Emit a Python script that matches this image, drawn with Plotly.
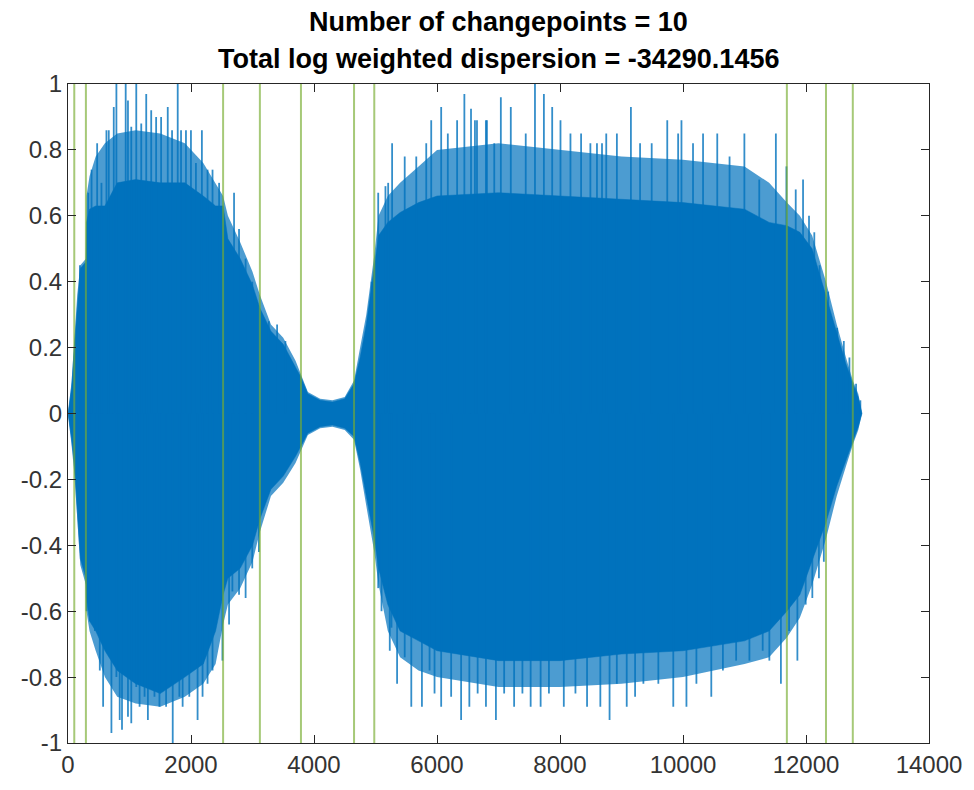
import plotly.graph_objects as go

# ---- data ----
CORE_X = [0, 60, 102, 150, 200, 291, 300, 350, 450, 600, 800, 1100, 1500, 1900, 2200, 2400, 2522,
          2600, 2800, 3000, 3120, 3300, 3500, 3700, 3788, 3900, 4100, 4300, 4500, 4651, 4750, 4850,
          4980, 5050, 5200, 5400, 5700, 6000, 7000, 8000, 9000, 10000, 11000, 11400, 11689, 11900,
          12100, 12325, 12500, 12650, 12761, 12850, 12910]
CORE_UPPER = [0.0, 0.08, 0.20, 0.32, 0.44, 0.46, 0.58, 0.62, 0.63, 0.63, 0.70, 0.71, 0.70, 0.70, 0.66,
              0.63, 0.63, 0.53, 0.47, 0.39, 0.32, 0.25, 0.21, 0.14, 0.11, 0.06, 0.04, 0.035, 0.045,
              0.09, 0.17, 0.27, 0.45, 0.54, 0.58, 0.61, 0.64, 0.66, 0.67, 0.66, 0.65, 0.64, 0.62,
              0.58, 0.57, 0.55, 0.50, 0.36, 0.25, 0.15, 0.09, 0.05, 0.0]
CORE_LOWER = [0.0, -0.08, -0.15, -0.28, -0.44, -0.50, -0.56, -0.63, -0.66, -0.72, -0.78, -0.82, -0.85,
              -0.80, -0.76, -0.66, -0.55, -0.50, -0.47, -0.40, -0.32, -0.23, -0.19, -0.13, -0.10,
              -0.06, -0.04, -0.035, -0.045, -0.07, -0.15, -0.25, -0.38, -0.47, -0.58, -0.66, -0.69,
              -0.72, -0.75, -0.75, -0.73, -0.72, -0.69, -0.66, -0.60, -0.55, -0.45, -0.33, -0.22,
              -0.14, -0.085, -0.04, 0.0]
# typical height of the peak fringe around the dense body
FRINGE_UPPER = [0.0, 0.10, 0.22, 0.36, 0.45, 0.47, 0.66, 0.72, 0.78, 0.82, 0.85, 0.86, 0.85, 0.82,
                0.76, 0.70, 0.66, 0.60, 0.52, 0.43, 0.36, 0.27, 0.23, 0.16, 0.12, 0.065, 0.045, 0.04,
                0.05, 0.10, 0.20, 0.30, 0.48, 0.60, 0.66, 0.70, 0.75, 0.80, 0.82, 0.80, 0.78, 0.77,
                0.75, 0.70, 0.64, 0.60, 0.54, 0.40, 0.27, 0.17, 0.10, 0.06, 0.0]
FRINGE_LOWER = [0.0, -0.10, -0.18, -0.32, -0.46, -0.52, -0.60, -0.66, -0.72, -0.80, -0.86, -0.88,
                -0.89, -0.86, -0.82, -0.76, -0.64, -0.58, -0.53, -0.45, -0.36, -0.25, -0.21, -0.15,
                -0.11, -0.065, -0.045, -0.04, -0.05, -0.08, -0.17, -0.28, -0.42, -0.52, -0.66,
                -0.74, -0.78, -0.80, -0.83, -0.83, -0.82, -0.80, -0.76, -0.74, -0.68, -0.62, -0.52,
                -0.38, -0.25, -0.16, -0.095, -0.05, 0.0]

TOP_SPIKE_X = [194, 329, 383, 474, 544, 625, 663, 744, 787, 938, 975, 1029, 1110, 1191, 1272, 1353,
               1433, 1514, 1622, 1692, 1784, 1838, 1918, 1999, 2080, 2177, 2269, 2350, 2457, 2700,
               2781, 2888, 2996, 3266, 3400, 3535, 4936, 5044, 5162, 5206, 5270, 5475, 5663, 5825,
               5906, 6068, 6176, 6327, 6445, 6553, 6617, 6650, 6795, 6812, 6931, 7038, 7200, 7443,
               7593, 7738, 7873, 8008, 8170, 8343, 8494, 8601, 8683, 8752, 8925, 9153, 9302, 9491,
               9744, 9921, 9975, 10163, 10326, 10557, 10757, 10998, 11240, 11510, 11682, 11833,
               11952, 12049, 12135, 12221, 12361, 12507, 12615, 12706, 12814, 12884]
TOP_SPIKE_Y = [0.45, 0.67, 0.74, 0.82, 0.70, 0.86, 0.86, 0.93, 1.0, 1.0, 0.95, 0.87, 1.0, 0.88, 0.97,
               0.92, 0.90, 0.90, 0.93, 0.86, 1.0, 0.86, 0.86, 0.86, 0.76, 0.86, 0.74, 0.74, 0.70,
               0.67, 0.56, 0.47, 0.40, 0.28, 0.27, 0.22, 0.40, 0.67, 0.69, 0.70, 0.82, 0.78, 0.78,
               0.82, 0.89, 0.93, 0.85, 0.89, 0.97, 0.925, 0.89, 0.89, 0.89, 0.89, 0.82, 0.96, 0.93,
               0.85, 1.0, 0.97, 0.93, 0.89, 0.85, 0.85, 0.82, 0.82, 0.82, 0.85, 0.85, 0.93, 0.82,
               0.82, 0.89, 0.85, 0.89, 0.82, 0.85, 0.85, 0.78, 0.85, 0.71, 0.85, 0.75, 0.68, 0.71,
               0.60, 0.55, 0.45, 0.37, 0.26, 0.22, 0.17, 0.09, 0.04]

BOT_SPIKE_X = [302, 356, 437, 517, 571, 706, 787, 841, 878, 975, 1029, 1110, 1164, 1245, 1299, 1406,
               1487, 1595, 1703, 1811, 1864, 1972, 2107, 2188, 2269, 2350, 2511, 2619, 2673, 2781,
               2888, 2996, 3104, 5044, 5098, 5232, 5260, 5351, 5475, 5582, 5636, 5755, 5879, 5960,
               6068, 6230, 6392, 6526, 6661, 6796, 6958, 7092, 7254, 7389, 7523, 7685, 7820, 8062,
               8251, 8440, 8656, 8806, 8924, 9085, 9221, 9356, 9599, 9842, 10056, 10218, 10460,
               10649, 10864, 11080, 11296, 11404, 11592, 11725, 11860, 11995, 12103, 12210, 12290]
BOT_SPIKE_Y = [-0.60, -0.63, -0.66, -0.78, -0.89, -0.97, -0.80, -0.93, -0.96, -0.92, -0.94, -0.83,
               -0.89, -0.86, -0.93, -0.86, -0.89, -0.89, -1.0, -0.86, -0.89, -0.86, -0.93, -0.86,
               -0.82, -0.78, -0.75, -0.64, -0.54, -0.55, -0.56, -0.47, -0.42, -0.53, -0.60, -0.72,
               -0.65, -0.82, -0.74, -0.89, -0.66, -0.89, -0.78, -0.85, -0.89, -0.86, -0.93, -0.89,
               -0.85, -0.89, -0.93, -0.85, -0.89, -0.85, -0.89, -0.89, -0.85, -0.89, -0.85, -0.89,
               -0.89, -0.93, -0.82, -0.89, -0.86, -0.82, -0.82, -0.89, -0.89, -0.82, -0.86, -0.78,
               -0.75, -0.75, -0.72, -0.75, -0.82, -0.66, -0.75, -0.58, -0.56, -0.50, -0.45]

CHANGEPOINTS = [102, 291, 2522, 3120, 3788, 4651, 4980, 11689, 12325, 12761]

TITLE_LINES = ["Number of changepoints = 10", "Total log weighted dispersion = -34290.1456"]
X_TICKS = [0, 2000, 4000, 6000, 8000, 10000, 12000, 14000]
X_TICK_LABELS = ["0", "2000", "4000", "6000", "8000", "10000", "12000", "14000"]
Y_TICKS = [-1, -0.8, -0.6, -0.4, -0.2, 0, 0.2, 0.4, 0.6, 0.8, 1]
Y_TICK_LABELS = ["-1", "-0.8", "-0.6", "-0.4", "-0.2", "0", "0.2", "0.4", "0.6", "0.8", "1"]

BLUE = "#0072BD"

fig = go.Figure()

# fringe of peaks
fig.add_trace(go.Scatter(
    x=CORE_X + CORE_X[::-1], y=FRINGE_UPPER + FRINGE_LOWER[::-1],
    fill="toself", fillcolor="rgba(0,114,189,0.7)", mode="lines", line=dict(width=0),
    hoverinfo="skip", showlegend=False))

# dense signal body
fig.add_trace(go.Scatter(
    x=CORE_X + CORE_X[::-1], y=CORE_UPPER + CORE_LOWER[::-1],
    fill="toself", fillcolor=BLUE, mode="lines", line=dict(width=0.5, color=BLUE),
    hoverinfo="skip", showlegend=False))

# individual peaks
sx, sy = [], []
for xv, yv in zip(TOP_SPIKE_X + BOT_SPIKE_X, TOP_SPIKE_Y + BOT_SPIKE_Y):
    sx += [xv, xv, None]
    sy += [0, yv, None]
fig.add_trace(go.Scatter(x=sx, y=sy, mode="lines",
                         line=dict(color="rgba(0,114,189,0.8)", width=1.8),
                         hoverinfo="skip", showlegend=False))

# changepoint lines
cx, cy = [], []
for xv in CHANGEPOINTS:
    cx += [xv, xv, None]
    cy += [-1, 1, None]
fig.add_trace(go.Scatter(x=cx, y=cy, mode="lines",
                         line=dict(color="rgba(119,172,48,0.65)", width=2),
                         hoverinfo="skip", showlegend=False))

axis_common = dict(showgrid=False, zeroline=False, showline=True, mirror="ticks",
                   linecolor="#262626", linewidth=1, ticks="inside", ticklen=8,
                   tickcolor="#262626", tickfont=dict(family="Liberation Sans, Arial", size=24,
                                                      color="#333333"))

fig.update_layout(
    width=966, height=782,
    margin=dict(l=60, r=41, t=76, b=42),
    paper_bgcolor="white", plot_bgcolor="white",
    xaxis=dict(range=[0, 14000], tickvals=X_TICKS, ticktext=X_TICK_LABELS, **axis_common),
    yaxis=dict(range=[-1, 1], tickvals=Y_TICKS, ticktext=Y_TICK_LABELS, **axis_common),
    annotations=[
        dict(text="<b>" + TITLE_LINES[0] + "</b>", xref="paper", yref="paper", x=0.5, y=1.0935,
             xanchor="center", yanchor="middle", showarrow=False, borderpad=0,
             font=dict(family="Liberation Sans, Arial", size=27, color="black")),
        dict(text="<b>" + TITLE_LINES[1] + "</b>", xref="paper", yref="paper", x=0.5, y=1.0385,
             xanchor="center", yanchor="middle", showarrow=False, borderpad=0,
             font=dict(family="Liberation Sans, Arial", size=27, color="black")),
    ],
)

fig.write_html("out.html")
